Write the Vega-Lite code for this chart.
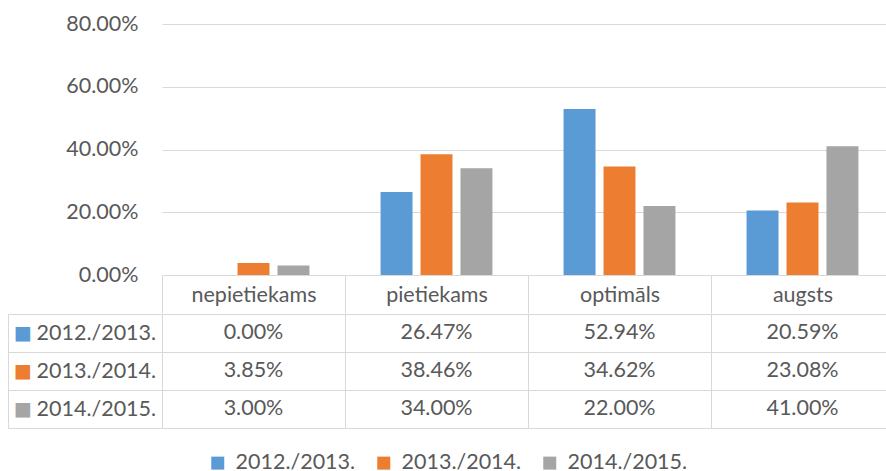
{
  "$schema": "https://vega.github.io/schema/vega-lite/v6.json",
  "padding": {"left": 7, "top": 13, "right": 0, "bottom": 20},
  "spacing": -12,
  "config": {
    "view": {"stroke": null},
    "font": "Lato"
  },
  "datasets": {
    "d": [
      {"category": "nepietiekams", "series": "2012./2013.", "value": 0.0},
      {"category": "nepietiekams", "series": "2013./2014.", "value": 0.0385},
      {"category": "nepietiekams", "series": "2014./2015.", "value": 0.03},
      {"category": "pietiekams", "series": "2012./2013.", "value": 0.2647},
      {"category": "pietiekams", "series": "2013./2014.", "value": 0.3846},
      {"category": "pietiekams", "series": "2014./2015.", "value": 0.34},
      {"category": "optimāls", "series": "2012./2013.", "value": 0.5294},
      {"category": "optimāls", "series": "2013./2014.", "value": 0.3462},
      {"category": "optimāls", "series": "2014./2015.", "value": 0.22},
      {"category": "augsts", "series": "2012./2013.", "value": 0.2059},
      {"category": "augsts", "series": "2013./2014.", "value": 0.2308},
      {"category": "augsts", "series": "2014./2015.", "value": 0.41}
    ]
  },
  "vconcat": [
    {
      "width": 732,
      "height": 251,
      "data": {"name": "d"},
      "mark": {"type": "bar"},
      "encoding": {
        "x": {
          "field": "category", "type": "nominal",
          "sort": ["nepietiekams", "pietiekams", "optimāls", "augsts"],
          "scale": {"paddingInner": 0, "paddingOuter": 0},
          "axis": {"title": null, "orient": "bottom", "domainColor": "#D9D9D9", "tickBand": "extent", "tickSize": 38, "tickColor": "#D9D9D9", "labelAngle": 0, "labelFontSize": 21.5, "labelColor": "#595959", "labelPadding": -29, "grid": false, "minExtent": 38, "maxExtent": 38}
        },
        "xOffset": {
          "field": "series", "type": "nominal",
          "sort": ["2012./2013.", "2013./2014.", "2014./2015."],
          "scale": {"paddingInner": 0.2, "paddingOuter": 0.89}
        },
        "y": {
          "field": "value", "type": "quantitative",
          "scale": {"domain": [0, 0.8]},
          "axis": {"title": null, "format": ".2%", "values": [0, 0.2, 0.4, 0.6, 0.8], "domain": false, "ticks": false, "labelPadding": 24, "labelFontSize": 21.5, "labelColor": "#595959", "gridColor": "#D9D9D9"}
        },
        "color": {
          "field": "series", "type": "nominal",
          "scale": {"domain": ["2012./2013.", "2013./2014.", "2014./2015."], "range": ["#5B9BD5", "#ED7D31", "#A5A5A5"]},
          "legend": {"title": null, "orient": "none", "legendX": 45, "legendY": 428, "direction": "horizontal", "symbolType": "square", "symbolSize": 169, "symbolStrokeWidth": 0, "labelFontSize": 21.5, "labelColor": "#595959", "columnPadding": 17, "labelOffset": 7}
        }
      }
    },
    {
      "width": 732,
      "height": 114,
      "data": {"name": "d"},
      "layer": [
        {
          "mark": {"type": "text", "fontSize": 21.5, "color": "#595959"},
          "encoding": {
            "x": {
              "field": "category", "type": "nominal",
              "sort": ["nepietiekams", "pietiekams", "optimāls", "augsts"],
              "scale": {"paddingInner": 0, "paddingOuter": 0},
              "axis": {"title": null, "labels": false, "ticks": false, "domain": false, "grid": true, "tickBand": "extent", "gridColor": "#D9D9D9"}
            },
            "y": {
              "field": "series", "type": "nominal",
              "sort": ["2012./2013.", "2013./2014.", "2014./2015."],
              "scale": {"paddingInner": 0, "paddingOuter": 0},
              "axis": {"orient": "left", "title": null, "grid": true, "gridColor": "#D9D9D9", "tickBand": "extent", "ticks": true, "tickSize": 154, "tickColor": "#D9D9D9", "domain": false, "labelAlign": "left", "labelPadding": -28, "labelFontSize": 21.5, "labelColor": "#595959"}
            },
            "text": {"field": "value", "type": "quantitative", "format": ".2%"}
          }
        },
        {
          "mark": {"type": "text", "opacity": 0},
          "encoding": {
            "y": {
              "field": "series", "type": "nominal",
              "sort": ["2012./2013.", "2013./2014.", "2014./2015."],
              "axis": {"orient": "left", "title": null, "offset": 154, "grid": false, "ticks": false, "domain": true, "domainColor": "#D9D9D9", "labelExpr": "'■'", "labelFont": "DejaVu Sans", "labelAlign": "left", "labelPadding": -5.5, "labelFontSize": 19, "labelColor": {"condition": [{"test": "datum.value === '2012./2013.'", "value": "#5B9BD5"}, {"test": "datum.value === '2013./2014.'", "value": "#ED7D31"}], "value": "#A5A5A5"}}
            }
          }
        }
      ],
      "resolve": {"axis": {"y": "independent"}}
    }
  ]
}
